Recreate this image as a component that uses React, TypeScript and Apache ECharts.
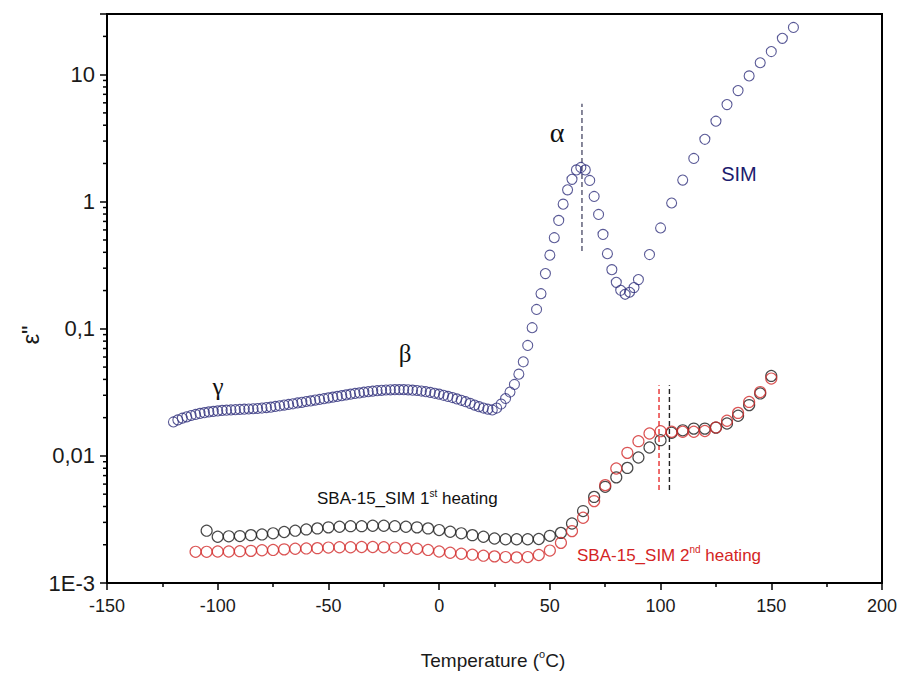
import React, { useEffect, useRef } from "react";
import * as echarts from "echarts";

// Neat SIM: isochronal loss curve
const simTemp = [
  -120, -118, -116, -114, -112, -110, -108, -106, -104, -102, -100, -98, -96, -94, -92, -90,
  -88, -86, -84, -82, -80, -78, -76, -74, -72, -70, -68, -66, -64, -62, -60, -58, -56, -54,
  -52, -50, -48, -46, -44, -42, -40, -38, -36, -34, -32, -30, -28, -26, -24, -22, -20, -18,
  -16, -14, -12, -10, -8, -6, -4, -2, 0, 2, 4, 6, 8, 10, 12, 14, 16, 18, 20, 22, 24, 26, 28,
  30, 32, 34, 36, 38, 40, 42, 44, 46, 48, 50, 52, 54, 56, 58, 60, 62, 64, 66, 68, 70, 72, 74,
  76, 78, 80, 82, 84, 86, 88, 90, 95, 100, 105, 110, 115, 120, 125, 130, 135, 140, 145, 150,
  155, 160,
];
const simEps = [
  0.0185, 0.0192, 0.0198, 0.0203, 0.0208, 0.0212, 0.0216, 0.0219, 0.0222, 0.0224, 0.0226,
  0.0228, 0.0229, 0.023, 0.0231, 0.0232, 0.0233, 0.0234, 0.0235, 0.0236, 0.0238, 0.024,
  0.0242, 0.0245, 0.0248, 0.0251, 0.0254, 0.0257, 0.0261, 0.0264, 0.0268, 0.0271, 0.0275,
  0.0278, 0.0282, 0.0286, 0.029, 0.0294, 0.0298, 0.0302, 0.0306, 0.031, 0.0313, 0.0317,
  0.032, 0.0323, 0.0326, 0.0328, 0.033, 0.0331, 0.0332, 0.0332, 0.0332, 0.0331, 0.0329,
  0.0327, 0.0324, 0.032, 0.0316, 0.0311, 0.0306, 0.03, 0.0294, 0.0288, 0.0281, 0.0274,
  0.0267, 0.0259, 0.0251, 0.0244, 0.0238, 0.0233, 0.023, 0.0238, 0.0256, 0.0283, 0.0318,
  0.0365, 0.044, 0.055, 0.074, 0.102, 0.142, 0.189, 0.272, 0.38, 0.521, 0.713, 0.957, 1.24,
  1.5, 1.78, 1.86, 1.78, 1.47, 1.1, 0.794, 0.553, 0.39, 0.292, 0.232, 0.201, 0.187, 0.194,
  0.211, 0.244, 0.384, 0.622, 0.977, 1.48, 2.19, 3.1, 4.3, 5.81, 7.49, 9.77, 12.4, 15.2,
  19.3, 23.5,
];

// SBA-15_SIM, 1st heating
const heat1Temp = [
  -105, -100, -95, -90, -85, -80, -75, -70, -65, -60, -55, -50, -45, -40, -35, -30, -25, -20,
  -15, -10, -5, 0, 5, 10, 15, 20, 25, 30, 35, 40, 45, 50, 55, 60, 65, 70, 75, 80, 85, 90, 95,
  100, 105, 110, 115, 120, 125, 130, 135, 140, 145, 150,
];
const heat1Eps = [
  0.00258, 0.00231, 0.00233, 0.00234, 0.00238, 0.00241, 0.00246, 0.00252, 0.00258, 0.00264,
  0.00269, 0.00274, 0.00277, 0.0028, 0.0028, 0.00282, 0.00282, 0.0028, 0.00277, 0.00274,
  0.00269, 0.00261, 0.00253, 0.00246, 0.00238, 0.00231, 0.00224, 0.00221, 0.00221, 0.00221,
  0.00222, 0.00235, 0.00248, 0.00294, 0.00368, 0.00476, 0.00571, 0.00678, 0.00805, 0.00972,
  0.01165, 0.0133, 0.0152, 0.0159, 0.0164, 0.0164, 0.0167, 0.018, 0.0207, 0.0251, 0.031,
  0.0426,
];

// SBA-15_SIM, 2nd heating
const heat2Temp = [
  -110, -105, -100, -95, -90, -85, -80, -75, -70, -65, -60, -55, -50, -45, -40, -35, -30, -25,
  -20, -15, -10, -5, 0, 5, 10, 15, 20, 25, 30, 35, 40, 45, 50, 55, 60, 65, 70, 75, 80, 85, 90,
  95, 100, 105, 110, 115, 120, 125, 130, 135, 140, 145, 150,
];
const heat2Eps = [
  0.00176, 0.00176, 0.00177, 0.00177, 0.00178, 0.00179, 0.00181, 0.00182, 0.00184, 0.00186,
  0.00187, 0.00188, 0.0019, 0.00191, 0.00191, 0.00192, 0.00192, 0.00191, 0.0019, 0.00188,
  0.00186, 0.00182, 0.00177, 0.00173, 0.0017, 0.00167, 0.00164, 0.00162, 0.0016, 0.00159,
  0.0016, 0.00166, 0.0018, 0.00207, 0.00256, 0.00326, 0.00441, 0.00589, 0.00796, 0.01057,
  0.01306, 0.015, 0.01565, 0.0155, 0.0155, 0.0155, 0.0157, 0.01675, 0.0189, 0.0218, 0.0266,
  0.0318, 0.0406,
];

// Relaxation-peak guides: temperature, lower and upper ε'' bound, stroke colour
const guideTemp = [64.5, 104, 99.3];
const guideLow = [0.41, 0.0054, 0.0054];
const guideHigh = [5.9, 0.036, 0.036];
const guideColor = ["#555570", "#222222", "#e83030"];

// Axis ticks
const yTickValues = [0.001, 0.01, 0.1, 1, 10];
const yTickLabels = ["1E-3", "0,01", "0,1", "1", "10"];
const yMinorTicks: number[] = [];
for (let k = -3; k <= 1; k++) {
  for (let m = 2; m <= 9; m++) {
    const v = m * Math.pow(10, k);
    if (v < 30) yMinorTicks.push(v);
  }
}

const SANS = "'Liberation Sans', Arial, sans-serif";
const NARROW = "'Liberation Sans Narrow', 'Liberation Sans', Arial, sans-serif";
const SERIF = "'Liberation Serif', 'Times New Roman', serif";

const BLUE = "#2f2f7c";
const RED = "#d22a2a";
const BLACK = "#1c1c1c";

function pairs(t: number[], v: number[]) {
  return t.map((x, i) => [x, v[i]]);
}

export default function App() {
  const ref = useRef<HTMLDivElement>(null);

  useEffect(() => {
    if (!ref.current) return;
    const chart = echarts.init(ref.current, undefined, { renderer: "svg" });

    const option: any = {
      animation: false,
      backgroundColor: "#ffffff",
      grid: {
        left: 107,
        right: 21,
        top: 14,
        bottom: 92,
        show: true,
        borderColor: "#000",
        borderWidth: 2,
      },
      xAxis: {
        type: "value",
        min: -150,
        max: 200,
        interval: 50,
        axisLine: { onZero: false, lineStyle: { color: "#000", width: 2 } },
        axisTick: { length: 7, lineStyle: { color: "#000", width: 1.5 } },
        minorTick: { show: true, splitNumber: 2, length: 4, lineStyle: { color: "#000", width: 1.5 } },
        splitLine: { show: false },
        minorSplitLine: { show: false },
        axisLabel: { fontFamily: NARROW, fontSize: 18, color: "#1a1a1a", margin: 14 },
      },
      yAxis: {
        type: "log",
        logBase: 10,
        min: 0.001,
        max: 30,
        axisLine: { onZero: false, lineStyle: { color: "#000", width: 2 } },
        axisTick: { length: 7, lineStyle: { color: "#000", width: 1.5 } },
        splitLine: { show: false },
        axisLabel: {
          fontFamily: SANS,
          fontSize: 22,
          color: "#1a1a1a",
          margin: 12,
          formatter: (v: number) => {
            const i = yTickValues.findIndex(
              (t) => Math.abs(Math.log10(t) - Math.log10(v)) < 1e-6
            );
            return i >= 0 ? yTickLabels[i] : "";
          },
        },
      },
      series: [
        {
          type: "custom",
          name: "minor-y",
          silent: true,
          clip: false,
          data: yMinorTicks.map((v) => [-150, v]),
          renderItem: (_p: any, api: any) => {
            const pt = api.coord([api.value(0), api.value(1)]);
            return {
              type: "line",
              shape: { x1: pt[0] - 4, y1: pt[1], x2: pt[0], y2: pt[1] },
              style: { stroke: "#000", lineWidth: 1.5 },
            };
          },
        },
        {
          type: "custom",
          name: "guides",
          silent: true,
          data: guideTemp.map((t, i) => [t, guideLow[i], guideHigh[i], i]),
          renderItem: (_p: any, api: any) => {
            const a = api.coord([api.value(0), api.value(1)]);
            const b = api.coord([api.value(0), api.value(2)]);
            return {
              type: "line",
              shape: { x1: a[0], y1: a[1], x2: b[0], y2: b[1] },
              style: {
                stroke: guideColor[api.value(3)],
                lineWidth: 1.4,
                lineDash: [5, 3],
              },
            };
          },
        },
        {
          type: "scatter",
          name: "SIM",
          data: pairs(simTemp, simEps),
          symbol: "circle",
          symbolSize: 10,
          itemStyle: { color: "rgba(0,0,0,0)", borderColor: BLUE, borderWidth: 1.1 },
        },
        {
          type: "scatter",
          name: "SBA-15_SIM 1st heating",
          data: pairs(heat1Temp, heat1Eps),
          symbol: "circle",
          symbolSize: 11,
          itemStyle: { color: "rgba(0,0,0,0)", borderColor: BLACK, borderWidth: 1.2 },
        },
        {
          type: "scatter",
          name: "SBA-15_SIM 2nd heating",
          data: pairs(heat2Temp, heat2Eps),
          symbol: "circle",
          symbolSize: 11,
          itemStyle: { color: "rgba(0,0,0,0)", borderColor: RED, borderWidth: 1.2 },
        },
      ],
      graphic: [
        {
          type: "text",
          x: 493,
          y: 660,
          style: {
            text: "{a|Temperature (}{s|o}{a|C)}",
            align: "center",
            verticalAlign: "middle",
            rich: {
              a: { fontFamily: NARROW, fontSize: 19, fill: "#1a1a1a" },
              s: { fontFamily: NARROW, fontSize: 11, fill: "#1a1a1a", padding: [0, 0, 12, 0] },
            },
          },
        },
        {
          type: "text",
          x: 30,
          y: 335,
          rotation: Math.PI / 2,
          style: {
            text: 'ε"',
            fontFamily: SANS,
            fontSize: 24,
            fill: "#1a1a1a",
            align: "center",
            verticalAlign: "middle",
          },
        },
        {
          type: "text",
          x: 218,
          y: 386,
          style: { text: "γ", fontFamily: SERIF, fontSize: 25, fill: "#111", align: "center", verticalAlign: "middle" },
        },
        {
          type: "text",
          x: 405,
          y: 353,
          style: { text: "β", fontFamily: SERIF, fontSize: 25, fill: "#111", align: "center", verticalAlign: "middle" },
        },
        {
          type: "text",
          x: 557,
          y: 132,
          style: { text: "α", fontFamily: SERIF, fontSize: 28, fill: "#111", align: "center", verticalAlign: "middle" },
        },
        {
          type: "text",
          x: 739,
          y: 174,
          style: { text: "SIM", fontFamily: SANS, fontSize: 20, fill: "#1c1c6e", align: "center", verticalAlign: "middle" },
        },
        {
          type: "text",
          x: 317,
          y: 498,
          style: {
            text: "{a|SBA-15_SIM 1}{s|st}{a| heating}",
            align: "left",
            verticalAlign: "middle",
            rich: {
              a: { fontFamily: SANS, fontSize: 17, fill: "#111" },
              s: { fontFamily: SANS, fontSize: 10, fill: "#111", padding: [0, 0, 10, 0] },
            },
          },
        },
        {
          type: "text",
          x: 577,
          y: 555,
          style: {
            text: "{a|SBA-15_SIM 2}{s|nd}{a| heating}",
            align: "left",
            verticalAlign: "middle",
            rich: {
              a: { fontFamily: SANS, fontSize: 17, fill: "#d42424" },
              s: { fontFamily: SANS, fontSize: 10, fill: "#d42424", padding: [0, 0, 11, 0] },
            },
          },
        },
      ],
    };

    chart.setOption(option);
    return () => chart.dispose();
  }, []);

  return (
    <div
      ref={ref}
      style={{ position: "absolute", left: 0, top: 0, width: 903, height: 675 }}
    />
  );
}
